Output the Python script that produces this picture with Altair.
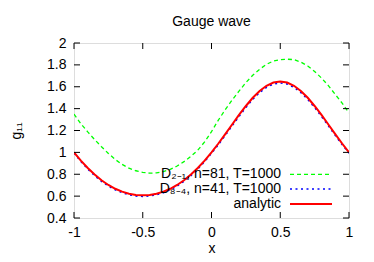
import altair as alt
import pandas as pd

# ---- data ----
x_vals = [-1.0, -0.95, -0.9, -0.85, -0.8, -0.75, -0.7, -0.65, -0.6, -0.55, -0.5,
          -0.45, -0.4, -0.35, -0.3, -0.25, -0.2, -0.15, -0.1, -0.05, 0.0,
          0.05, 0.1, 0.15, 0.2, 0.25, 0.3, 0.35, 0.4, 0.45, 0.5,
          0.55, 0.6, 0.65, 0.7, 0.75, 0.8, 0.85, 0.9, 0.95, 1.0]

d21_vals = [1.350, 1.262, 1.187, 1.117, 1.052, 0.990, 0.935, 0.890, 0.855, 0.832, 0.818,
            0.810, 0.812, 0.825, 0.845, 0.875, 0.915, 0.963, 1.020, 1.095, 1.190,
            1.295, 1.390, 1.478, 1.560, 1.638, 1.705, 1.760, 1.805, 1.835, 1.848,
            1.852, 1.848, 1.825, 1.790, 1.740, 1.680, 1.610, 1.530, 1.450, 1.360]

d84_vals = [0.995, 0.917, 0.848, 0.788, 0.736, 0.693, 0.658, 0.632, 0.613, 0.601, 0.598,
            0.601, 0.613, 0.632, 0.658, 0.693, 0.736, 0.788, 0.848, 0.916, 0.991,
            1.071, 1.156, 1.243, 1.329, 1.411, 1.485, 1.547, 1.595, 1.625, 1.635,
            1.625, 1.595, 1.547, 1.485, 1.411, 1.329, 1.243, 1.156, 1.071, 0.993]

analytic_vals = [1.000, 0.925, 0.857, 0.797, 0.745, 0.702, 0.667, 0.641, 0.622, 0.610, 0.607,
                 0.610, 0.622, 0.641, 0.667, 0.702, 0.745, 0.797, 0.857, 0.925, 1.000,
                 1.081, 1.167, 1.255, 1.342, 1.424, 1.499, 1.561, 1.609, 1.639, 1.649,
                 1.639, 1.609, 1.561, 1.499, 1.424, 1.342, 1.255, 1.167, 1.081, 1.000]

series_labels = ["D\u2082\u208b\u2081, n=81, T=1000", "D\u2088\u208b\u2084, n=41, T=1000", "analytic"]
series_colors = ["#00ff00", "#0000ff", "#ff0000"]

x_ticks = [-1, -0.5, 0, 0.5, 1]
y_ticks = [0.4, 0.6, 0.8, 1.0, 1.2, 1.4, 1.6, 1.8, 2.0]

chart_title = "Gauge wave"

FONT = "Liberation Sans"
W, H = 275, 175

xscale = alt.Scale(domain=[-1, 1], nice=False, zero=False)
yscale = alt.Scale(domain=[0.4, 2], nice=False, zero=False)

lab_expr = "replace(format(datum.value, '~g'), '\u2212', '-')"

xaxis = alt.Axis(values=x_ticks, tickCount=20, labelExpr=lab_expr, title="x", domain=False,
                 ticks=False, grid=False, labelFlush=False, labelOverlap=False, labelPadding=7,
                 labelFontSize=14, titleFontSize=14, titleFontWeight="normal", titleY=34,
                 titleBaseline="alphabetic", labelFont=FONT, titleFont=FONT,
                 labelColor="black", titleColor="black")
yaxis = alt.Axis(values=y_ticks, tickCount=20, labelExpr=lab_expr, title="g\u2081\u2081",
                 domain=False, ticks=False, grid=False, labelOverlap=False, labelPadding=8,
                 labelFontSize=14, titleFontSize=14,
                 titleFontWeight="normal", titleX=-58, titleY=H / 2, titleAngle=270,
                 titleAlign="center", titleBaseline="middle", labelFont=FONT, titleFont=FONT,
                 labelColor="black", titleColor="black")

df21 = pd.DataFrame({"x": x_vals, "y": d21_vals})
df84 = pd.DataFrame({"x": x_vals, "y": d84_vals})
dfan = pd.DataFrame({"x": x_vals, "y": analytic_vals})

base_enc = dict(x=alt.X("x:Q", scale=xscale, axis=xaxis),
                y=alt.Y("y:Q", scale=yscale, axis=yaxis))

l21 = alt.Chart(df21).mark_line(color=series_colors[0], strokeWidth=1.3,
                                strokeDash=[4, 3], clip=True).encode(**base_enc)
l84 = alt.Chart(df84).mark_line(color=series_colors[1], strokeWidth=1.6,
                                strokeDash=[2, 3.5], clip=True).encode(**base_enc)
lan = alt.Chart(dfan).mark_line(color=series_colors[2], strokeWidth=2,
                                clip=True).encode(**base_enc)

# inward ticks on all four sides
xt = pd.DataFrame({"t": x_ticks})
yt = pd.DataFrame({"t": y_ticks})
TL = 6
xt_bot = alt.Chart(xt).mark_rule(color="black", strokeWidth=1).encode(
    x=alt.X("t:Q", scale=xscale, axis=xaxis), y=alt.value(H), y2=alt.value(H - TL))
xt_top = alt.Chart(xt).mark_rule(color="black", strokeWidth=1).encode(
    x=alt.X("t:Q", scale=xscale, axis=xaxis), y=alt.value(0), y2=alt.value(TL))
yt_left = alt.Chart(yt).mark_rule(color="black", strokeWidth=1).encode(
    y=alt.Y("t:Q", scale=yscale, axis=yaxis), x=alt.value(0), x2=alt.value(TL))
yt_right = alt.Chart(yt).mark_rule(color="black", strokeWidth=1).encode(
    y=alt.Y("t:Q", scale=yscale, axis=yaxis), x=alt.value(W), x2=alt.value(W - TL))

# title as text
title_layer = alt.Chart(pd.DataFrame({"t": [chart_title]})).mark_text(
    align="center", baseline="middle", font=FONT, fontSize=14, color="black"
).encode(text="t:N", x=alt.value(W / 2), y=alt.value(-21))

# legend (gnuplot style: label then line sample)
leg_rows = [131.3, 146.0, 161.0]
dashes = [[4, 3], [2, 3.5], None]
widths = [1.3, 1.6, 2]
legend_layers = []
for i, lab in enumerate(series_labels):
    t = alt.Chart(pd.DataFrame({"label": [lab]})).mark_text(
        align="right", baseline="middle", font=FONT, fontSize=14, color="black"
    ).encode(text="label:N", x=alt.value(207), y=alt.value(leg_rows[i]))
    rule_kwargs = dict(color=series_colors[i], strokeWidth=widths[i])
    if dashes[i] is not None:
        rule_kwargs["strokeDash"] = dashes[i]
    r = alt.Chart(pd.DataFrame({"label": [lab]})).mark_rule(**rule_kwargs).encode(
        x=alt.value(216), x2=alt.value(258), y=alt.value(leg_rows[i]))
    legend_layers += [t, r]

chart = alt.layer(l21, l84, lan, xt_bot, xt_top, yt_left, yt_right, title_layer,
                  *legend_layers).properties(
    width=W, height=H,
    autosize=alt.AutoSizeParams(type="none"),
    padding={"left": 66, "top": 35, "right": 17, "bottom": 36},
).configure_view(stroke="black", strokeWidth=1).configure_axis(
    labelOverlap=False
).configure(background="white")

chart.save("out.html", embed_options={"renderer": "svg", "actions": False})
